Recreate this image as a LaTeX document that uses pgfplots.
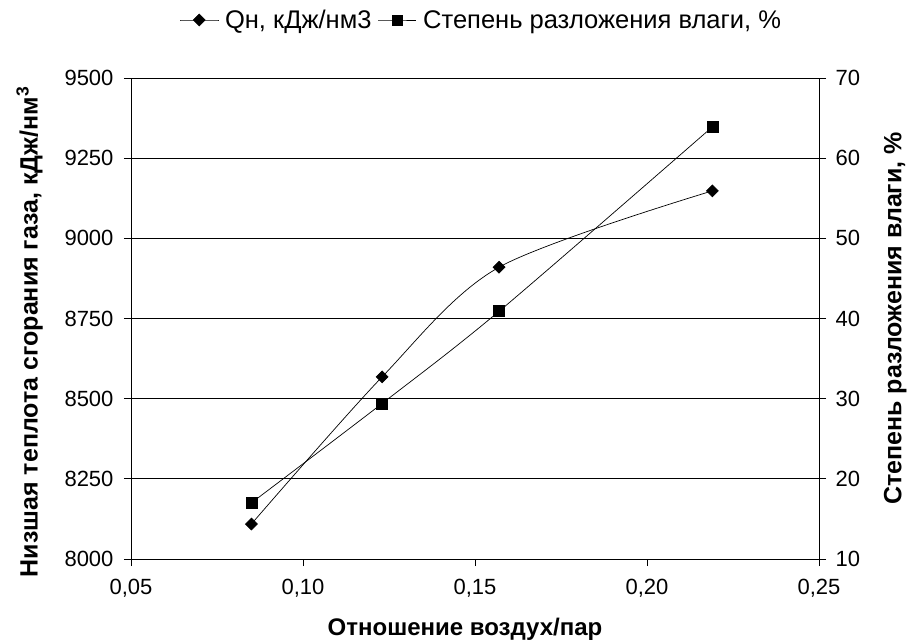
\documentclass[border=0pt]{standalone}
\usepackage{fontspec}
\setmainfont{Liberation Sans}
\usepackage{pgfplots}
\pgfplotsset{compat=1.18}

\begin{document}
\begin{tikzpicture}[font=\fontsize{22bp}{26bp}\selectfont]
% page frame around the plot area
\useasboundingbox (-131bp,-82bp) rectangle (776bp,559bp);

\pgfplotsset{
  frame/.style={
    at={(0,0)}, anchor=south west,
    scale only axis, width=688bp, height=481bp,
    xmin=0.05, xmax=0.25,
    axis line style={line width=0.8bp},
    tick align=outside, major tick length=7bp,
    tick style={black, line width=0.8bp},
    tick label style={font=\fontsize{22bp}{26bp}\selectfont},
    label style={font=\fontsize{25bp}{29bp}\selectfont\bfseries},
  },
}

\begin{axis}[
  frame,
  ymin=8000, ymax=9500,
  xtick={0.05,0.1,0.15,0.2,0.25},
  ytick={8000,8250,8500,8750,9000,9250,9500},
  axis y line*=left, axis x line*=bottom,
  ymajorgrids, grid style={black, line width=0.8bp},
  xticklabel style={yshift=-10bp, /pgf/number format/.cd, fixed, fixed zerofill, precision=2, use comma, assume math mode=true},
  yticklabel style={xshift=-7bp, /pgf/number format/.cd, fixed, 1000 sep={}, assume math mode=true},
  xlabel={Отношение воздух/пар},
  ylabel={Низшая теплота сгорания газа, кДж/нм\textsuperscript{3}},
  xlabel style={at={(axis description cs:0.4855,0)}, anchor=base, inner sep=0pt, yshift=-76bp,
    font=\fontsize{24bp}{28bp}\selectfont\bfseries},
  ylabel style={at={(axis description cs:-0.128,0.472)}, anchor=south, rotate=0, inner sep=0pt},
  legend style={at={(axis description cs:0.509,1)}, anchor=center, yshift=58bp, draw=none, fill=none,
    legend columns=2, font=\fontsize{25.5bp}{30bp}\selectfont,
    nodes={inner sep=1.5bp},
    /tikz/every odd column/.append style={column sep=5bp},
    /tikz/every even column/.append style={column sep=5bp}},
  legend image code/.code={
    \draw[mark repeat=2, mark phase=2, #1] plot coordinates {(0bp,0bp) (19bp,0bp) (38bp,0bp)};},
]
\addplot[black, line width=0.7bp, smooth, mark=square*, mark size=4.2bp,
  mark options={rotate=45, solid}]
  coordinates {(0.085,8109) (0.123,8568) (0.157,8910) (0.219,9148)};
\addlegendentry{Qн, кДж/нм3}
\addlegendimage{black, line width=0.7bp, mark=square*, mark size=5bp}
\addlegendentry{Степень разложения влаги, \%}
\end{axis}

\begin{axis}[
  frame,
  ymin=10, ymax=70,
  ytick={10,20,30,40,50,60,70},
  axis y line*=right, axis x line=none,
  yticklabel style={xshift=6bp, /pgf/number format/assume math mode=true},
  ylabel={Степень разложения влаги, \%},
  ylabel style={at={(axis description cs:1.094,0.5)}, anchor=north, rotate=0, inner sep=0pt},
]
\addplot[black, line width=0.7bp, smooth, mark=square*, mark size=5.5bp]
  coordinates {(0.085,17.0) (0.123,29.4) (0.157,40.9) (0.219,63.9)};
\end{axis}
\end{tikzpicture}
\end{document}
